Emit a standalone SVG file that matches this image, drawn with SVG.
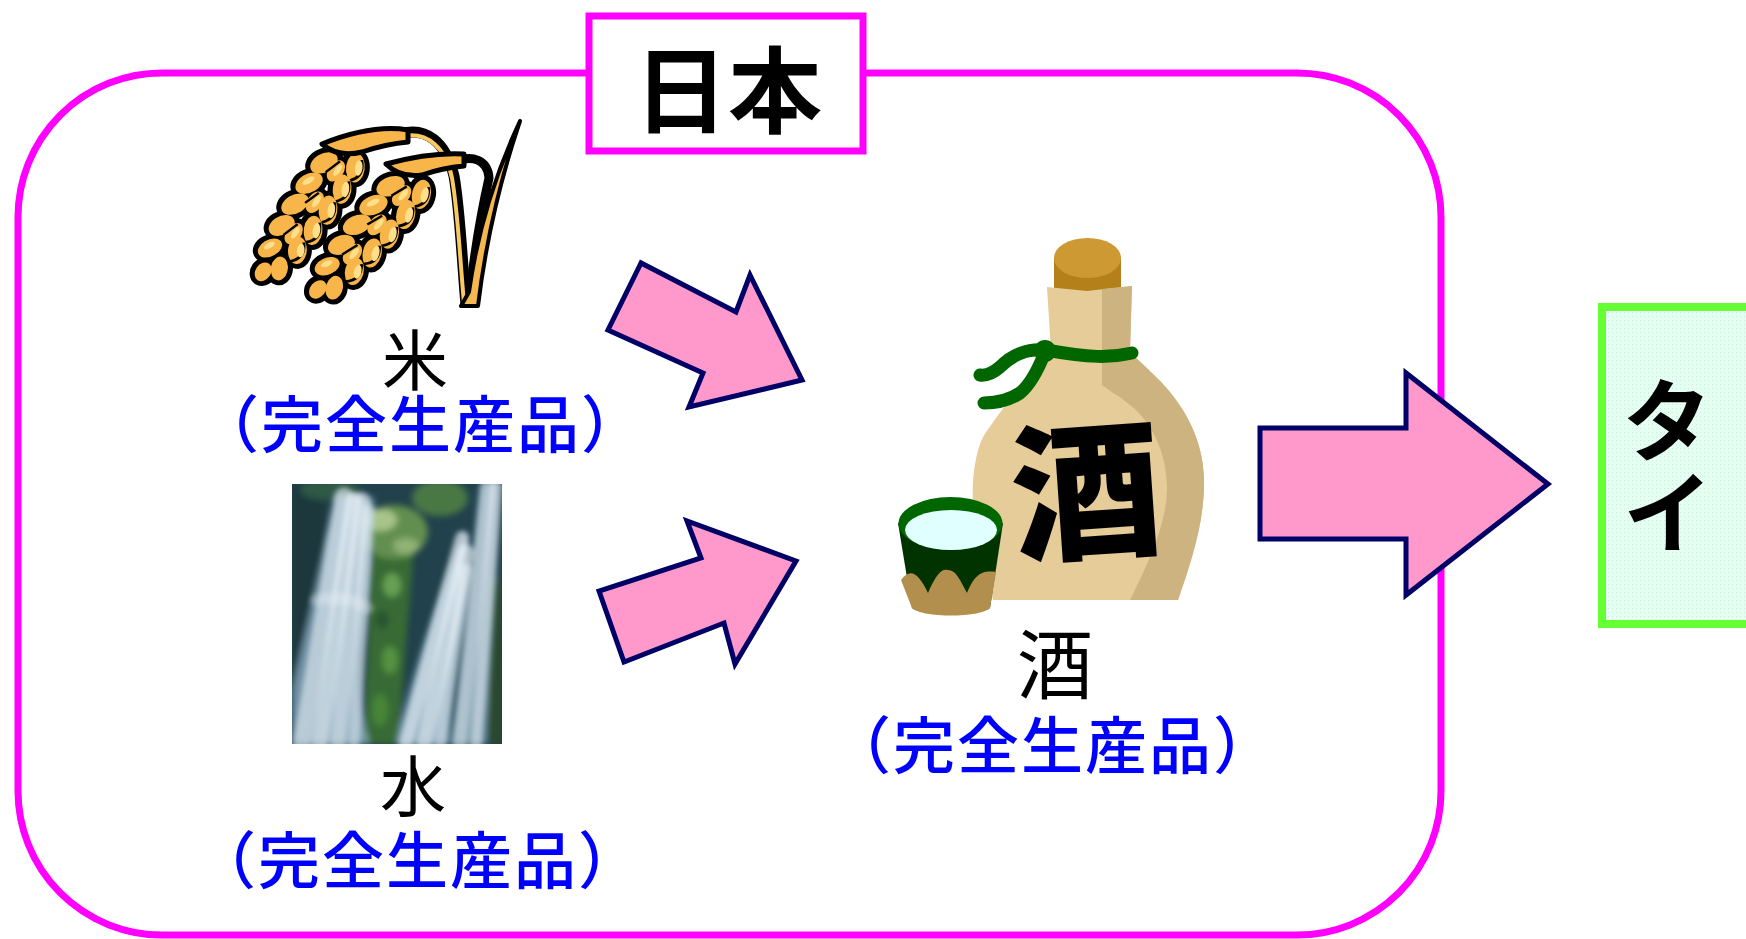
<svg xmlns="http://www.w3.org/2000/svg" xmlns:xlink="http://www.w3.org/1999/xlink" width="1746" height="939" viewBox="0 0 1746 939">
<style>
.t{font-family:"Noto Sans CJK JP","Noto Sans CJK SC",sans-serif;text-anchor:middle;fill:#000}
.sub{fill:#0000FF;font-weight:500;letter-spacing:2px}
.arrow{fill:#FF99CC;stroke:#000066;stroke-width:5;stroke-linejoin:miter}
.gb{fill:#000;stroke:#000;stroke-width:11}
.gc{fill:#F7B54A}
.gh{fill:#FFDF8A}
.flag{fill:#F7B54A;stroke:#000;stroke-width:5;stroke-linejoin:round}
.st{fill:none;stroke:#F4FAFF;stroke-linecap:round}
</style>
<defs>
<pattern id="dots" width="4" height="4" patternUnits="userSpaceOnUse">
<rect width="4" height="4" fill="#E6FFF3"/>
<rect width="1" height="1" fill="#C6EED9"/>
</pattern>
<clipPath id="wfclip"><rect x="292" y="484" width="210" height="260"/></clipPath>
<filter id="soft" x="-10%" y="-10%" width="120%" height="120%"><feGaussianBlur stdDeviation="3"/></filter>
<filter id="soft2" x="-10%" y="-10%" width="120%" height="120%"><feGaussianBlur stdDeviation="2.6"/></filter>
<g id="grains">
<ellipse cx="14" cy="-15" rx="17" ry="10" transform="rotate(-22 14 -15)"/>
<ellipse cx="30" cy="15" rx="17" ry="10" transform="rotate(22 30 15)"/>
<ellipse cx="44" cy="-16" rx="17" ry="10" transform="rotate(-22 44 -16)"/>
<ellipse cx="60" cy="16" rx="17" ry="10" transform="rotate(22 60 16)"/>
<ellipse cx="74" cy="-16" rx="17" ry="10" transform="rotate(-22 74 -16)"/>
<ellipse cx="90" cy="16" rx="17" ry="10" transform="rotate(22 90 16)"/>
<ellipse cx="104" cy="-15" rx="17" ry="10" transform="rotate(-22 104 -15)"/>
<ellipse cx="120" cy="15" rx="16" ry="10" transform="rotate(22 120 15)"/>
<ellipse cx="134" cy="-13" rx="16" ry="10" transform="rotate(-22 134 -13)"/>
<ellipse cx="150" cy="12" rx="15" ry="9" transform="rotate(22 150 12)"/>
<ellipse cx="164" cy="-8" rx="14" ry="9" transform="rotate(-18 164 -8)"/>
<ellipse cx="178" cy="4" rx="12" ry="8"/>
<ellipse cx="30" cy="0" rx="14" ry="8"/>
<ellipse cx="75" cy="0" rx="14" ry="8"/>
<ellipse cx="120" cy="0" rx="14" ry="8"/>
</g>
<g id="ear">
<use xlink:href="#grains" class="gb"/>
<use xlink:href="#grains" class="gc"/>
<path d="M2 -16 Q16 -28 30 -18 M32 -17 Q46 -29 60 -18 M62 -17 Q76 -29 90 -18 M92 -16 Q106 -28 120 -16 M122 -14 Q136 -25 150 -13" fill="none" stroke="#000" stroke-width="3"/>
<path d="M18 2 L38 8 M63 2 L82 8 M108 2 L128 8 M140 -2 L158 4" fill="none" stroke="#000" stroke-width="2.5"/>
<ellipse class="gh" cx="12" cy="-18" rx="9" ry="4" transform="rotate(-22 12 -18)"/>
<ellipse class="gh" cx="42" cy="-19" rx="9" ry="4" transform="rotate(-22 42 -19)"/>
<ellipse class="gh" cx="72" cy="-19" rx="9" ry="4" transform="rotate(-22 72 -19)"/>
<ellipse class="gh" cx="102" cy="-18" rx="9" ry="4" transform="rotate(-22 102 -18)"/>
<ellipse class="gh" cx="132" cy="-16" rx="8" ry="4" transform="rotate(-22 132 -16)"/>
<ellipse class="gh" cx="28" cy="-1" rx="8" ry="3"/>
<ellipse class="gh" cx="73" cy="-1" rx="8" ry="3"/>
<ellipse class="gh" cx="118" cy="-1" rx="8" ry="3"/>
<ellipse class="gh" cx="58" cy="18" rx="8" ry="3" transform="rotate(22 58 18)"/>
<ellipse class="gh" cx="148" cy="14" rx="7" ry="3" transform="rotate(22 148 14)"/>
</g>
</defs>
<rect width="1746" height="939" fill="#FFFFFF"/>

<g id="japan">
<rect x="18" y="73" width="1423" height="862" rx="144" ry="144" fill="none" stroke="#FF00FF" stroke-width="7"/>
<rect x="589" y="16" width="274" height="135" fill="#FFFFFF" stroke="#FF00FF" stroke-width="7"/>
<text class="t" x="728" y="126" font-size="94" font-weight="bold">日本</text>
</g>

<g id="rice">
<path d="M470 292 C476 240 484 200 489 178 C488 160 472 154 455 162" fill="none" stroke="#000" stroke-width="9" stroke-linecap="round"/>
<path d="M466 305 C462 260 460 210 454 176 C446 142 426 126 400 134" fill="none" stroke="#000" stroke-width="11"/>
<path d="M464 303 C460 260 458 212 452 178 C446 148 428 132 404 136" fill="none" stroke="#F9C860" stroke-width="4"/>
<path d="M461 306 L478 306 C486 240 500 180 520 121 C498 168 478 228 469 292 Z" fill="#F5B850" stroke="#000" stroke-width="4" stroke-linejoin="round"/>
<use xlink:href="#ear" transform="translate(350,150) rotate(124) scale(0.84,0.96)"/>
<path class="flag" d="M408 130 Q372 124 322 144 Q338 158 362 152 Q386 144 408 142 Z"/>
<use xlink:href="#ear" transform="translate(418,176) rotate(130) scale(0.85,0.96)"/>
<path class="flag" d="M464 154 Q430 152 386 164 Q400 178 422 175 Q442 168 464 166 Z"/>
<text class="t" x="415" y="385" font-size="66">米</text>
<text class="t sub" x="421" y="448" font-size="62">（完全生産品）</text>
</g>

<g id="water">
<g clip-path="url(#wfclip)">
<rect x="292" y="484" width="210" height="260" fill="#21414C"/>
<g filter="url(#soft)">
<rect x="292" y="484" width="34" height="260" fill="#1B373E"/>
<ellipse cx="440" cy="498" rx="28" ry="18" fill="#4A7845"/>
<ellipse cx="330" cy="490" rx="30" ry="10" fill="#2F5A44"/>
<path d="M370 556 L414 548 L408 620 L398 744 L362 744 L368 650 Z" fill="#396B35"/>
<ellipse cx="394" cy="532" rx="34" ry="27" fill="#628F50"/>
<ellipse cx="380" cy="520" rx="17" ry="11" fill="#A8C488"/>
<ellipse cx="406" cy="546" rx="13" ry="8" fill="#90B274"/>
<ellipse cx="392" cy="585" rx="9" ry="12" fill="#66A052"/>
<ellipse cx="382" cy="620" rx="7" ry="10" fill="#2C5630"/>
<ellipse cx="390" cy="660" rx="8" ry="14" fill="#55923F"/>
<ellipse cx="380" cy="710" rx="8" ry="16" fill="#468638"/>
<rect x="488" y="578" width="14" height="166" fill="#2A4A2C"/>
<path d="M336 494 L374 498 C372 540 368 600 362 650 C358 700 362 720 370 744 L292 744 L292 690 C306 630 322 560 336 494 Z" fill="#8FB2C8" opacity="0.75"/>
<path d="M464 530 C472 545 468 600 458 650 C451 700 449 720 449 744 L396 744 C410 680 440 590 464 530 Z" fill="#8FB2C8" opacity="0.75"/>
<path d="M480 484 L500 484 C497 560 490 650 486 744 L450 744 C462 680 472 560 480 484 Z" fill="#8FB2C8" opacity="0.65"/>
</g>
<g filter="url(#soft2)">
<path class="st" d="M344 496 L302 744" stroke-width="18" opacity="0.55"/>
<path class="st" d="M354 500 L320 744" stroke-width="16" opacity="0.6"/>
<path class="st" d="M362 500 L338 744" stroke-width="16" opacity="0.55"/>
<path class="st" d="M368 510 L354 744" stroke-width="12" opacity="0.5"/>
<path class="st" d="M316 600 C335 596 355 600 368 608" stroke-width="12" opacity="0.3"/>
<path class="st" d="M462 538 L406 744" stroke-width="14" opacity="0.6"/>
<path class="st" d="M466 552 L424 744" stroke-width="16" opacity="0.6"/>
<path class="st" d="M466 570 L440 744" stroke-width="12" opacity="0.5"/>
<path class="st" d="M488 486 L460 744" stroke-width="14" opacity="0.5"/>
<path class="st" d="M496 486 L476 744" stroke-width="12" opacity="0.55"/>
</g>
</g>
<text class="t" x="413" y="811" font-size="66">水</text>
<text class="t sub" x="418" y="884" font-size="62">（完全生産品）</text>
</g>

<g id="sake">
<path d="M1054 258 L1121 258 L1121 292 L1054 292 Z" fill="#B3801A"/>
<ellipse cx="1087.5" cy="258" rx="33.5" ry="20" fill="#CC9933"/>
<path d="M1047 287 L1087 291 L1132 286 L1130 352 L1051 352 Z" fill="#E5CC99"/>
<path d="M1102 289 L1132 286 L1130 352 L1102 352 Z" fill="#CCB380"/>
<path d="M1051 350 C1030 375 1000 410 983 437 C972 460 970 500 976 525 C981 555 988 580 993 600 L1178 600 C1192 560 1205 520 1204 478 C1203 440 1185 405 1156 377 C1145 366 1136 358 1130 352 Z" fill="#E5CC99"/>
<path d="M1102 352 L1130 352 C1136 358 1145 366 1156 377 C1185 405 1203 440 1204 478 C1205 520 1192 560 1178 600 L1130 600 C1150 560 1168 520 1167 485 C1166 450 1150 420 1130 405 C1118 395 1108 390 1102 385 Z" fill="#CCB380"/>
<path d="M1132 353 C1110 358 1090 358 1046 350" fill="none" stroke="#006600" stroke-width="13" stroke-linecap="round"/>
<path d="M1045 350 C1028 348 1012 355 1000 367 C993 373 987 376 980 375" fill="none" stroke="#006600" stroke-width="13" stroke-linecap="round"/>
<path d="M1045 352 C1038 370 1030 385 1020 393 C1008 401 996 403 984 403" fill="none" stroke="#006600" stroke-width="13" stroke-linecap="round"/>
<circle cx="1045" cy="351" r="11" fill="#006600"/>
<text class="t" x="1086" y="547" font-size="150" font-weight="900" transform="rotate(-4 1086 490)">酒</text>
<path d="M898 523 L1003 523 L990 608 C980 616 922 616 912 608 Z" fill="#003300"/>
<path d="M901 580 C910 568 918 572 928 593 C936 574 942 568 948 570 C956 570 960 580 967 593 C975 574 982 570 996 572 L990 608 C980 618 922 618 912 608 Z" fill="#B38F4D"/>
<ellipse cx="950.5" cy="523.5" rx="52" ry="26.5" fill="#006600"/>
<ellipse cx="951" cy="530" rx="46" ry="20" fill="#E0FFFF"/>
<text class="t" x="1055" y="693" font-size="76">酒</text>
<text class="t sub" x="1053" y="769" font-size="62">（完全生産品）</text>
</g>

<g id="thai">
<rect x="1602" y="307" width="200" height="317" fill="url(#dots)" stroke="#66FF33" stroke-width="8"/>
<text class="t" x="1668" y="374" font-size="92" font-weight="bold" writing-mode="vertical-rl" style="text-anchor:start">タイ</text>
</g>

<g id="connectors">
<polygon class="arrow" points="641,263 608,330 703,373 689,407 802,380 750,275 736,312"/>
<polygon class="arrow" points="599,591 624,662 724,623 735,664 796,561 687,521 701,558"/>
<polygon class="arrow" points="1260,428 1406,428 1406,373 1548,484 1406,595 1406,539 1260,539"/>
</g>
</svg>
